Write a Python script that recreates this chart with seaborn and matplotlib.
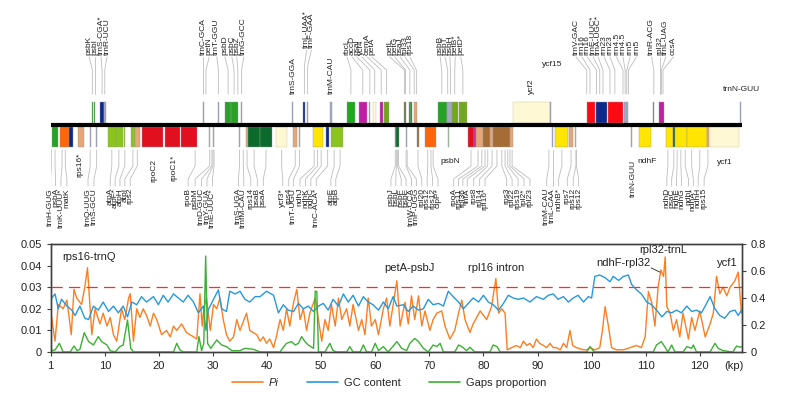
import numpy as np
import pandas as pd
import matplotlib
matplotlib.use("Agg")
import matplotlib.pyplot as plt
import seaborn as sns
from matplotlib.lines import Line2D

# --- 1. sliding-window values (position in kp) ---
pi_kp = [0.0, 0.8, 1.4, 2.3, 3.0, 3.8, 4.3, 4.8, 5.7, 6.3, 6.8, 7.6, 8.2, 9.1, 9.7, 10.4, 11.0, 11.6, 12.2, 13.1,
         13.7, 14.4, 14.7, 15.3, 15.9, 16.5, 17.1, 17.7, 18.4, 19.0, 19.6, 20.5, 21.4, 22.1, 22.7, 23.3, 24.2, 25.1,
         26.4, 27.0, 27.6, 28.0, 28.3, 28.8, 29.5, 30.1, 30.7, 31.3, 31.9, 32.5, 33.1, 33.8, 34.4, 35.0, 36.2, 36.8,
         38.1, 38.7, 39.3, 39.9, 40.5, 41.2, 41.8, 42.4, 43.0, 43.6, 44.2, 44.9, 45.5, 46.1, 46.7, 47.3, 47.9, 48.9,
         49.5, 50.1, 50.7, 51.3, 51.9, 52.6, 53.2, 53.8, 54.7, 55.3, 55.9, 56.9, 57.5, 58.1, 58.7, 59.3, 60.0, 60.6,
         61.5, 62.1, 62.7, 64.0, 64.6, 65.5, 66.1, 66.7, 67.3, 68.0, 68.6, 69.2, 70.1, 70.7, 71.4, 72.3, 72.9, 73.8,
         74.7, 75.4, 76.0, 76.6, 77.5, 78.1, 79.4, 80.6, 81.5, 82.3, 82.8, 83.4, 84.0, 84.4, 85.2, 86.1, 86.8, 87.4,
         88.0, 88.6, 89.2, 89.8, 90.4, 91.1, 91.7, 92.3, 92.9, 93.5, 94.2, 94.8, 95.4, 96.0, 96.5, 97.2, 98.5, 99.1,
         99.7, 100.6, 101.5, 102.0, 102.5, 103.1, 103.7, 104.6, 105.9, 107.1, 108.3, 109.2, 109.9, 110.5, 111.1,
         111.7, 112.3, 112.8, 113.3, 113.6, 113.9, 114.5, 115.1, 115.7, 116.3, 116.9, 117.9, 118.5, 119.1, 120.0,
         121.0, 121.9, 122.5, 123.1, 123.7, 124.3, 125.0, 125.6, 126.5, 127.1, 127.7]
pi_val = [0.019, 0.005, 0.022, 0.020, 0.024, 0.008, 0.029, 0.025, 0.022, 0.030, 0.039, 0.008, 0.020, 0.013, 0.018,
          0.012, 0.016, 0.008, 0.005, 0.020, 0.015, 0.025, 0.027, 0.005, 0.020, 0.016, 0.020, 0.017, 0.012, 0.018,
          0.015, 0.008, 0.010, 0.007, 0.012, 0.010, 0.013, 0.009, 0.007, 0.006, 0.027, 0.012, 0.020, 0.025, 0.010,
          0.022, 0.020, 0.025, 0.015, 0.008, 0.005, 0.007, 0.015, 0.010, 0.018, 0.010, 0.008, 0.005, 0.007, 0.004,
          0.006, 0.002, 0.008, 0.015, 0.010, 0.020, 0.012, 0.023, 0.029, 0.015, 0.020, 0.010, 0.018, 0.025, 0.015,
          0.005, 0.015, 0.010, 0.022, 0.012, 0.025, 0.015, 0.020, 0.012, 0.022, 0.010, 0.015, 0.008, 0.025, 0.012,
          0.015, 0.008, 0.020, 0.025, 0.012, 0.033, 0.012, 0.023, 0.013, 0.026, 0.015, 0.026, 0.012, 0.019, 0.010,
          0.015, 0.018, 0.019, 0.012, 0.006, 0.010, 0.018, 0.024, 0.015, 0.009, 0.013, 0.019, 0.015, 0.021, 0.034,
          0.018, 0.020, 0.018, 0.001, 0.002, 0.003, 0.002, 0.005, 0.003, 0.004, 0.002, 0.006, 0.004, 0.003, 0.002,
          0.004, 0.002, 0.002, 0.001, 0.004, 0.002, 0.010, 0.003, 0.002, 0.001, 0.001, 0.002, 0.001, 0.002, 0.010,
          0.021, 0.012, 0.002, 0.001, 0.001, 0.002, 0.003, 0.002, 0.007, 0.028, 0.023, 0.012, 0.030, 0.038, 0.035,
          0.044, 0.021, 0.018, 0.010, 0.015, 0.007, 0.018, 0.006, 0.016, 0.010, 0.019, 0.007, 0.013, 0.018, 0.035,
          0.027, 0.030, 0.026, 0.030, 0.033, 0.037, 0.018]

gc_kp = [0.2, 0.8, 1.4, 2.0, 3.0, 3.9, 4.5, 5.4, 6.3, 7.0, 7.9, 8.8, 9.7, 10.7, 11.6, 12.5, 13.4, 14.2, 15.0, 15.9,
         16.8, 17.7, 19.0, 19.9, 20.8, 21.7, 22.7, 23.6, 24.5, 25.4, 26.4, 27.3, 28.2, 28.7, 29.1, 30.1, 31.0, 31.6,
         32.5, 33.1, 34.1, 35.0, 35.9, 36.8, 37.8, 38.7, 39.9, 41.2, 42.1, 43.0, 43.9, 44.9, 45.8, 46.7, 47.6, 48.6,
         49.5, 50.4, 51.3, 52.2, 53.2, 54.1, 55.0, 55.9, 56.9, 57.8, 58.7, 59.6, 60.6, 61.5, 62.4, 63.3, 64.0, 65.2,
         66.1, 67.0, 68.0, 68.9, 69.8, 70.7, 71.7, 72.6, 73.5, 74.4, 75.4, 76.3, 77.2, 78.1, 79.1, 80.0, 80.9, 81.8,
         82.8, 83.7, 84.6, 85.5, 86.4, 87.4, 88.6, 89.8, 91.1, 92.0, 92.9, 93.8, 94.8, 95.7, 96.6, 97.5, 98.5, 99.4,
         100.0, 100.6, 101.5, 102.5, 103.4, 104.0, 105.0, 105.9, 106.8, 107.4, 108.3, 109.2, 110.2, 111.1, 112.0,
         113.0, 113.9, 114.8, 115.7, 116.6, 117.6, 118.5, 119.4, 120.3, 121.0, 121.9, 122.8, 123.7, 124.6, 125.6,
         126.5, 127.1, 127.7]
gc_val = [0.40, 0.43, 0.32, 0.39, 0.34, 0.31, 0.27, 0.34, 0.25, 0.24, 0.34, 0.31, 0.37, 0.30, 0.34, 0.29, 0.34,
          0.26, 0.37, 0.35, 0.41, 0.37, 0.41, 0.35, 0.42, 0.37, 0.43, 0.40, 0.37, 0.42, 0.37, 0.29, 0.34, 0.16,
          0.31, 0.39, 0.46, 0.32, 0.30, 0.45, 0.43, 0.45, 0.39, 0.37, 0.41, 0.41, 0.45, 0.42, 0.29, 0.35, 0.31,
          0.30, 0.36, 0.32, 0.34, 0.30, 0.34, 0.36, 0.31, 0.39, 0.34, 0.43, 0.37, 0.42, 0.34, 0.41, 0.37, 0.35,
          0.31, 0.37, 0.32, 0.41, 0.34, 0.35, 0.30, 0.34, 0.31, 0.32, 0.39, 0.35, 0.36, 0.34, 0.45, 0.41, 0.37,
          0.32, 0.36, 0.40, 0.37, 0.42, 0.37, 0.35, 0.31, 0.36, 0.42, 0.40, 0.39, 0.40, 0.37, 0.41, 0.39, 0.42,
          0.43, 0.39, 0.41, 0.37, 0.40, 0.42, 0.37, 0.41, 0.40, 0.56, 0.57, 0.55, 0.52, 0.56, 0.53, 0.56, 0.57,
          0.50, 0.46, 0.43, 0.37, 0.35, 0.31, 0.26, 0.30, 0.29, 0.31, 0.29, 0.34, 0.30, 0.31, 0.29, 0.34, 0.41,
          0.32, 0.27, 0.25, 0.30, 0.31, 0.27, 0.31]

gap_kp = [0.0, 0.8, 1.6, 2.3, 3.6, 4.3, 4.9, 5.4, 6.2, 7.0, 7.9, 8.8, 9.4, 10.4, 11.0, 11.9, 12.8, 13.4, 14.2, 14.8,
          15.3, 22.7, 23.3, 23.9, 24.5, 27.0, 27.4, 27.9, 28.3, 28.65, 29.0, 29.6, 30.7, 31.6, 32.5, 33.5, 35.0,
          35.9, 37.5, 38.7, 42.4, 43.0, 43.6, 44.5, 45.2, 45.8, 46.4, 47.0, 47.6, 48.6, 48.9, 49.2, 49.5, 50.7, 51.6,
          52.2, 52.9, 54.7, 55.3, 55.9, 57.2, 57.8, 58.4, 59.3, 60.0, 60.6, 61.5, 62.4, 64.0, 64.9, 65.8, 66.4, 67.3,
          68.0, 68.9, 69.8, 70.7, 71.4, 72.0, 72.6, 74.7, 75.4, 76.0, 76.9, 77.5, 78.4, 81.2, 81.8, 82.5, 83.1, 99.1,
          99.7, 100.5, 111.4, 112.0, 112.9, 113.5, 114.1, 114.8, 115.4, 116.9, 117.6, 118.5, 118.8, 119.4, 121.9,
          122.8, 123.4, 124.3, 126.1, 126.8, 127.4, 127.8]
gap_val = [0.01, 0.015, 0.064, 0.0, 0.0, 0.044, 0.01, 0.02, 0.143, 0.077, 0.052, 0.114, 0.077, 0.052, 0.01, 0.0,
           0.04, 0.052, 0.237, 0.027, 0.0, 0.0, 0.064, 0.015, 0.0, 0.0, 0.114, 0.01, 0.064, 0.711, 0.064, 0.027,
           0.089, 0.052, 0.04, 0.01, 0.01, 0.027, 0.02, 0.0, 0.0, 0.035, 0.064, 0.077, 0.052, 0.064, 0.114, 0.077,
           0.052, 0.027, 0.452, 0.447, 0.0, 0.0, 0.064, 0.01, 0.0, 0.0, 0.04, 0.0, 0.0, 0.052, 0.0, 0.0, 0.064,
           0.01, 0.04, 0.0, 0.077, 0.027, 0.01, 0.064, 0.10, 0.077, 0.027, 0.0, 0.052, 0.04, 0.064, 0.0, 0.0, 0.052,
           0.04, 0.01, 0.035, 0.0, 0.0, 0.052, 0.04, 0.0, 0.0, 0.04, 0.0, 0.0, 0.052, 0.077, 0.04, 0.0, 0.052, 0.0,
           0.0, 0.04, 0.027, 0.052, 0.0, 0.0, 0.064, 0.027, 0.01, 0.0, 0.044, 0.035, 0.04]

# hotspot annotations (kp, Pi)
hot_names = ['rps16-trnQ', 'petA-psbJ', 'rpl16 intron', 'ndhF-rpl32', 'rpl32-trnL', 'ycf1']
hot_kp = [7.1, 66.4, 82.3, 105.8, 113.2, 125.0]
hot_pi = [0.044, 0.0389, 0.0389, 0.0412, 0.0474, 0.0412]

# --- 2. gene map: genes above (top) and below (bot) the bar, in kp ---
top_start = [7.6, 8.0, 9.2, 9.9, 28.1, 30.9, 32.2, 33.3, 35.2, 44.6, 46.7, 47.3, 51.7, 54.8, 57.0, 58.9, 59.6, 60.9,
             61.6, 65.3, 66.3, 66.6, 67.2, 71.6, 73.3, 74.1, 75.5, 85.4, 92.3, 99.1, 100.9, 103.1, 106.0, 111.4,
             112.4, 127.4]
top_end = [7.8, 8.2, 9.9, 10.2, 28.3, 31.1, 33.3, 34.6, 35.4, 44.8, 47.1, 47.6, 51.9, 56.2, 58.5, 59.1, 60.2, 61.5,
           62.6, 65.7, 66.5, 66.8, 67.8, 73.2, 74.1, 75.3, 76.9, 92.3, 92.5, 100.6, 102.8, 105.8, 106.8, 111.6,
           113.4, 127.6]
top_group = ['psb', 'psb', 'trnI', 'trn', 'trn', 'trn', 'psb', 'psb', 'trn', 'trn', 'trnI', 'trn', 'trn', 'rbc',
             'acc', 'trn', 'ycf', 'acc', 'pet', 'olive', 'psb', 'psa', 'rps', 'psb', 'trn', 'pet', 'pet', 'ycf',
             'trn', 'rrn', 'trnI', 'rrn', 'trn', 'rpl', 'acc', 'trn']

bot_start = [0.2, 1.8, 3.4, 5.0, 7.2, 8.4, 10.5, 12.1, 13.6, 14.8, 15.6, 16.8, 21.1, 24.0, 29.3, 30.0, 34.8, 36.1,
             36.5, 38.7, 41.6, 44.8, 45.9, 48.4, 50.9, 51.9, 63.6, 63.9, 65.7, 67.8, 69.2, 73.5, 77.2, 78.2, 78.6,
             80.0, 81.2, 81.8, 84.9, 92.7, 93.3, 95.8, 96.9, 107.2, 108.8, 113.7, 115.1, 115.5, 117.6, 121.3, 121.9]
bot_end = [1.4, 3.4, 4.1, 6.2, 7.4, 8.6, 12.1, 13.3, 13.8, 15.6, 16.5, 20.8, 23.9, 27.1, 29.5, 30.2, 35.0, 36.5,
           38.7, 41.0, 43.7, 45.5, 46.1, 50.3, 51.5, 54.0, 63.9, 64.4, 65.9, 68.0, 71.2, 73.7, 78.2, 78.6, 80.0,
           81.2, 81.8, 84.9, 85.4, 92.9, 95.7, 96.5, 97.2, 107.4, 111.0, 115.1, 115.5, 117.6, 121.3, 121.7, 127.3]
bot_group = ['psb', 'orf', 'trnI', 'rps', 'trn', 'trn', 'atp', 'atp', 'atp', 'atp', 'rps', 'rpo', 'rpo', 'rpo',
             'pale', 'trn', 'trn', 'rps', 'psa', 'psa', 'ycf', 'rps', 'trn', 'ndh', 'trnI', 'atp', 'psb', 'psa',
             'trn', 'rpl', 'orf', 'pale', 'rpo', 'acc', 'rps', 'rpl', 'rps', 'rpl', 'rps', 'trn', 'ndh', 'rps',
             'rps', 'trn', 'ndh', 'ndh', 'psa', 'ndh', 'ndh', 'rps', 'ycf']

# labels: name, label position, attached gene position (kp)
top_names = ['psbK', 'psbI', 'trnS-CGA*', 'trnR-UCU', 'trnC-GCA', 'petN', 'trnT-GGU', 'psbD', 'psbC', 'psbZ',
             'trnG-GCC', 'rbcL', 'accD', 'psaI', 'ycf4', 'cemA', 'petA', 'petL', 'petG', 'psaJ', 'rpl33', 'rps18',
             'psbB', 'psbT', 'psbH', 'petB*', 'petD*', 'trnV-GAC', 'rrn16', 'rrn16', 'trnE-UUC*', 'trnA-UGC*',
             'rrn23', 'rrn23', 'rrn4.5', 'rrn4.5', 'rrn5', 'rrn5', 'trnR-ACG', 'rpl32', 'trnL-UAG', 'ccsA']
top_lab = [7.1, 8.1, 9.3, 10.4, 28.2, 29.3, 30.7, 32.2, 33.5, 34.4, 35.7, 54.8, 55.7, 56.6, 57.5, 58.5, 59.4, 62.7,
           63.6, 64.6, 65.5, 66.4, 72.0, 72.9, 73.8, 74.8, 75.8, 97.1, 98.2, 99.2, 100.3, 101.2, 102.3, 103.4,
           104.6, 105.8, 107.1, 108.3, 111.1, 112.6, 113.7, 115.1]
top_gene = [7.7, 8.1, 9.5, 10.0, 28.2, 28.7, 31.0, 32.8, 33.9, 34.6, 35.3, 55.5, 57.7, 59.0, 59.9, 61.1, 62.1, 65.4,
            65.6, 66.4, 67.2, 67.6, 72.3, 73.4, 73.9, 74.7, 76.2, 99.1, 99.7, 100.9, 101.5, 102.1, 103.4, 104.3,
            105.8, 106.2, 106.5, 106.8, 111.5, 112.6, 112.9, 113.2]
high_names = ['trnL-UAA*', 'trnF-GAA']
high_lab = [47.3, 48.2]
high_gene = [46.9, 47.5]
low_names = ['trnS-GGA', 'trnM-CAU', 'ycf2']
low_lab = [44.8, 51.9, 88.9]

bot_names = ['trnH-GUG', 'psbA', 'trnK-UUU*', 'matK', 'trnQ-UUG', 'trnS-GCU', 'atpA', 'atpF*', 'atpH', 'atpI',
             'rps2', 'rpoB', 'psbM', 'trnD-GUC', 'trnY-GUA', 'trnE-UUC*', 'trnS-UGA', 'trnfM-CAU', 'rps14', 'psaB',
             'psaA', 'ycf3*', 'rps4', 'trnT-UGU', 'ndhJ', 'ndhK', 'ndhC', 'trnC-ACA*', 'atpE', 'atpB', 'psbJ',
             'psbL', 'psbF', 'psbE', 'trnW-CCA', 'trnP-UGG', 'rpl20', 'rps12', 'rps12', 'clpP*', 'rpoA', 'rps11',
             'rpl36', 'infA', 'rps8', 'rpl14', 'rpl16*', 'rps3', 'rpl22', 'rps19', 'rpl2*', 'rpl23', 'trnM-CAU',
             'trnL-CAA', 'ndhB*', 'rps7', 'rps12', 'rps12', 'ndhD', 'psaC', 'ndhE', 'ndhG', 'ndhI', 'ndhA*', 'ndhH',
             'rps15']
bot_lab = [0.0, 0.9, 1.9, 3.0, 6.9, 8.0, 11.0, 11.9, 12.8, 13.7, 14.7, 25.4, 26.7, 27.9, 28.9, 29.9, 34.7, 35.7,
           37.0, 38.2, 39.3, 42.9, 44.0, 44.9, 46.1, 47.1, 48.1, 49.1, 51.8, 52.7, 62.9, 63.8, 64.8, 65.7, 66.7,
           67.6, 68.6, 69.6, 70.6, 71.6, 74.5, 75.4, 76.2, 77.0, 78.2, 79.3, 80.3, 84.3, 85.3, 86.4, 87.5, 88.6,
           91.7, 92.8, 93.9, 95.5, 96.6, 97.6, 113.9, 114.8, 115.7, 116.6, 117.9, 118.8, 119.7, 120.8]
bot_gene = [0.1, 0.8, 2.1, 2.7, 7.3, 8.5, 11.3, 12.6, 13.7, 15.2, 16.0, 26.7, 29.4, 29.8, 30.0, 30.2, 34.9, 35.6,
            36.3, 37.6, 39.8, 42.7, 45.2, 46.0, 48.7, 49.3, 50.0, 51.2, 52.4, 53.5, 63.7, 63.9, 64.1, 64.3, 65.7,
            65.9, 67.9, 69.7, 70.3, 70.7, 77.7, 79.0, 79.7, 80.3, 80.8, 81.6, 82.5, 83.4, 84.0, 84.5, 84.9, 85.3,
            92.1, 92.8, 94.5, 96.2, 97.1, 97.2, 114.1, 115.2, 115.8, 116.5, 117.3, 118.5, 120.0, 121.5]
bot_hi_names = ['rps16*', 'rpoC2', 'rpoC1*', 'trnN-GUU']
bot_hi_lab = [5.3, 19.1, 22.8, 107.7]
bot_hi_top = [153, 159, 155, 160]

# --- 3. style ---
sns.set_theme(style="ticks")
plt.rcParams['font.family'] = ['Liberation Sans', 'DejaVu Sans']
plt.rcParams['axes.edgecolor'] = '#404040'
plt.rcParams['axes.linewidth'] = 1.0

gene_colors = {
    'psb': '#27a227', 'psa': '#0c6a2c', 'atp': '#8cc41e', 'ndh': '#ffe500', 'rpo': '#e0101e',
    'rrn': '#ff0a14', 'rps': '#e6a677', 'rpl': '#a46d36', 'trn': '#a2a6c2', 'trnI': '#0b2a8c',
    'ycf': '#fff8d4', 'orf': '#ff660a', 'rbc': '#1eaa1e', 'acc': '#c41fa4', 'pet': '#74a81c',
    'olive': '#707a50', 'pale': '#9cc89c',
}
c_pi, c_gc, c_gap = '#fb7f22', '#2798de', '#3cb034'
line_c = '#bdbdbd'
txt_c = '#222222'
fs_gene = 6.0
xmax = 127.8

fig = plt.figure(figsize=(7.85, 4.05), dpi=100)

# --- 4. gene map ---
gax = fig.add_axes([0.0646, 0.4074, 0.8806, 0.5926])
gax.set_xlim(0, xmax)
gax.set_ylim(240, 0)
gax.axis('off')

for starts, ends, groups, y0, h in [(top_start, top_end, top_group, 101.5, 21.2),
                                     (bot_start, bot_end, bot_group, 126.7, 20.3)]:
    for s, e, g in zip(starts, ends, groups):
        gax.bar(s, h, width=max(e - s, 0.22), bottom=y0, align='edge', color=gene_colors[g],
                edgecolor='#c9c3a0' if g == 'ycf' else '#9a9a9a', linewidth=0.3)
gax.hlines(124.7, 0, xmax, color='black', lw=3.0)

for name, lx, gx in zip(top_names, top_lab, top_gene):
    gax.plot([lx, gx, gx], [57, 70, 94], color=line_c, lw=0.6)
    gax.text(lx, 55, name, rotation=90, ha='center', va='bottom', fontsize=fs_gene, color=txt_c)
for name, lx, gx in zip(high_names, high_lab, high_gene):
    gax.plot([lx, gx, gx], [50, 66, 94], color=line_c, lw=0.6)
    gax.text(lx, 48, name, rotation=90, ha='center', va='bottom', fontsize=fs_gene, color=txt_c)
for name, lx in zip(low_names, low_lab):
    gax.text(lx, 94, name, rotation=90, ha='center', va='bottom', fontsize=fs_gene, color=txt_c)
gax.text(92.8, 64, 'ycf15', ha='center', va='center', fontsize=fs_gene, color=txt_c)
gax.text(124.3, 89, 'trnN-GUU', ha='left', va='center', fontsize=fs_gene, color=txt_c)

for name, lx, gx in zip(bot_names, bot_lab, bot_gene):
    gax.plot([gx, gx, lx, lx], [150, 166, 179, 186], color=line_c, lw=0.6)
    gax.text(lx, 188, name, rotation=90, ha='center', va='top', fontsize=fs_gene, color=txt_c)
for name, lx, ty in zip(bot_hi_names, bot_hi_lab, bot_hi_top):
    gax.text(lx, ty, name, rotation=90, ha='center', va='top', fontsize=fs_gene, color=txt_c)
gax.text(73.8, 161, 'psbN', ha='center', va='center', fontsize=fs_gene, color=txt_c)
gax.text(108.4, 161, 'ndhF', ha='left', va='center', fontsize=fs_gene, color=txt_c)
gax.text(124.7, 162, 'ycf1', ha='center', va='center', fontsize=fs_gene, color=txt_c)

# --- 5. diversity plot ---
ax = fig.add_axes([0.0646, 0.1309, 0.8806, 0.2667])
ax2 = ax.twinx()

df_pi = pd.DataFrame({'kp': pi_kp, 'Pi': pi_val})
df_gc = pd.DataFrame({'kp': gc_kp, 'GC': gc_val})
df_gap = pd.DataFrame({'kp': gap_kp, 'Gaps': gap_val})

sns.lineplot(data=df_pi, x='kp', y='Pi', ax=ax, color=c_pi, lw=1.0, legend=False)
sns.lineplot(data=df_gc, x='kp', y='GC', ax=ax2, color=c_gc, lw=1.0, legend=False)
sns.lineplot(data=df_gap, x='kp', y='Gaps', ax=ax2, color=c_gap, lw=1.0, legend=False)

ax.axhline(0.03, color='#ff2a2a', lw=0.9, ls=(0, (9, 5)), zorder=5)

ax.set_xlim(0, xmax)
ax.set_ylim(0, 0.05)
ax2.set_ylim(0, 0.8)
xt = list(range(0, 121, 10))
ax.set_xticks(xt)
ax.set_xticklabels(['1'] + [str(v) for v in xt[1:]])
ax.set_yticks([0, 0.01, 0.02, 0.03, 0.04, 0.05])
ax.set_yticklabels(['0', '0.01', '0.02', '0.03', '0.04', '0.05'])
ax2.set_yticks([0, 0.2, 0.4, 0.6, 0.8])
ax2.set_yticklabels(['0', '0.2', '0.4', '0.6', '0.8'])
for a in (ax, ax2):
    a.set_xlabel('')
    a.set_ylabel('')
    a.tick_params(axis='both', direction='out', length=3, width=0.8, labelsize=8,
                  color='#404040', labelcolor=txt_c)
    for sp in a.spines.values():
        sp.set_visible(True)
        sp.set_color('#404040')

ax.text(126.3, -0.13, '(kp)', transform=ax.get_xaxis_transform(), ha='center', va='center',
        fontsize=8, color=txt_c)

for name, x, y in zip(hot_names, hot_kp, hot_pi):
    ax.text(x, y, name, ha='center', va='center', fontsize=8, color=txt_c, zorder=6)
ax.plot([111.0, 112.6], [0.0389, 0.0370], color=txt_c, lw=0.6)

handles = [Line2D([], [], color=c_pi, lw=1.2), Line2D([], [], color=c_gc, lw=1.2),
           Line2D([], [], color=c_gap, lw=1.2)]
leg = fig.legend(handles, ['Pi', 'GC content', 'Gaps proportion'], loc='center',
                 bbox_to_anchor=(0.4955, 0.054), ncol=3, frameon=False, fontsize=8,
                 handlelength=2.8, columnspacing=2.6, handletextpad=0.5)
leg.get_texts()[0].set_fontstyle('italic')

fig.savefig('out.png', dpi=100)
